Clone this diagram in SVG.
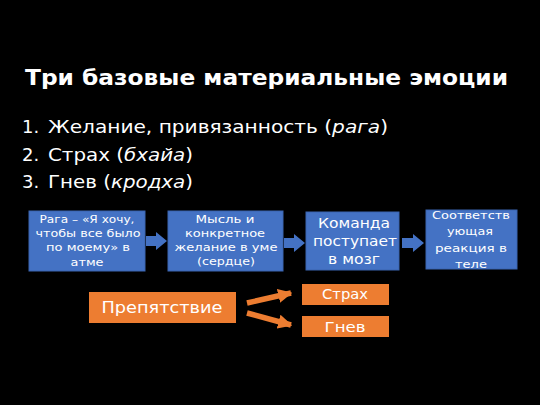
<svg xmlns="http://www.w3.org/2000/svg" width="540" height="405" viewBox="0 0 540 405">
<style>
text{font-family:"DejaVu Sans","Open Sans",sans-serif;fill:#fff}
.t{font-size:21px;font-weight:bold}
.l{font-size:18px}
.b{font-size:11px;text-anchor:middle}
.b3{font-size:14px;text-anchor:middle}
.o{text-anchor:middle}
.blue{fill:#4472C4;stroke:#3A64B0;stroke-width:1}
.orange{fill:#ED7D31}
.ba{fill:#4472C4}
</style>
<defs>
<marker id="ah" viewBox="0 0 10 10" refX="9" refY="5" markerWidth="2.6" markerHeight="2.6" orient="auto"><path d="M0,0 L10,5 L0,10 z" fill="#ED7D31"/></marker>
</defs>
<rect width="540" height="405" fill="#000"/>
<text class="t" x="25" y="85" textLength="483" lengthAdjust="spacingAndGlyphs">Три базовые материальные эмоции</text>
<g class="l">
<text x="22" y="133">1.</text><text x="48" y="133" textLength="340" lengthAdjust="spacingAndGlyphs">Желание, привязанность (<tspan font-style="italic">рага</tspan>)</text>
<text x="22" y="161">2.</text><text x="48" y="161" textLength="145" lengthAdjust="spacingAndGlyphs">Страх (<tspan font-style="italic">бхайа</tspan>)</text>
<text x="22" y="188">3.</text><text x="48" y="188" textLength="145" lengthAdjust="spacingAndGlyphs">Гнев (<tspan font-style="italic">кродха</tspan>)</text>
</g>
<g id="connectors">
<path class="ba" d="M146,236 L156,236 L156,232 L167,241 L156,250 L156,246 L146,246 z"/>
<path class="ba" d="M284,238 L294,238 L294,234 L305,243 L294,252 L294,248 L284,248 z"/>
<path class="ba" d="M402,238 L413,238 L413,234 L424,243 L413,252 L413,248 L402,248 z"/>
<line x1="247" y1="303" x2="291" y2="293" stroke="#ED7D31" stroke-width="5.5" marker-end="url(#ah)"/>
<line x1="247" y1="313" x2="291" y2="325" stroke="#ED7D31" stroke-width="5.5" marker-end="url(#ah)"/>
</g>
<g id="n1"><rect class="blue" x="29" y="211" width="116" height="60"/>
<text class="b" x="87" y="223" textLength="95" lengthAdjust="spacingAndGlyphs">Рага – «Я хочу,</text><text class="b" x="88" y="237" textLength="105" lengthAdjust="spacingAndGlyphs">чтобы все было</text><text class="b" x="88" y="251" textLength="84" lengthAdjust="spacingAndGlyphs">по моему» в</text><text class="b" x="87" y="266" textLength="33" lengthAdjust="spacingAndGlyphs">атме</text></g>
<g id="n2"><rect class="blue" x="168" y="211" width="115" height="60"/>
<text class="b" x="225" y="223" textLength="59" lengthAdjust="spacingAndGlyphs">Мысль и</text><text class="b" x="225" y="237" textLength="80" lengthAdjust="spacingAndGlyphs">конкретное</text><text class="b" x="226" y="251" textLength="103" lengthAdjust="spacingAndGlyphs">желание в уме</text><text class="b" x="226" y="265" textLength="58" lengthAdjust="spacingAndGlyphs">(сердце)</text></g>
<g id="n3"><rect class="blue" x="306" y="212" width="93" height="58"/>
<text class="b3" x="354" y="228" textLength="72" lengthAdjust="spacingAndGlyphs">Команда</text><text class="b3" x="355" y="246" textLength="84" lengthAdjust="spacingAndGlyphs">поступает</text><text class="b3" x="354" y="264" textLength="52" lengthAdjust="spacingAndGlyphs">в мозг</text></g>
<g id="n4"><rect class="blue" x="426" y="210" width="91" height="59"/>
<text class="b" x="471" y="219" textLength="78" lengthAdjust="spacingAndGlyphs">Соответств</text><text class="b" x="470" y="235" textLength="46" lengthAdjust="spacingAndGlyphs">ующая</text><text class="b" x="471" y="252" textLength="72" lengthAdjust="spacingAndGlyphs">реакция в</text><text class="b" x="471" y="268" textLength="32" lengthAdjust="spacingAndGlyphs">теле</text></g>
<g id="n5"><rect class="orange" x="89" y="292" width="147" height="31"/>
<text class="o" x="162" y="313" font-size="16" textLength="121" lengthAdjust="spacingAndGlyphs">Препятствие</text></g>
<g id="n6"><rect class="orange" x="302" y="284" width="87" height="21"/>
<text class="o" x="345" y="299" font-size="14" textLength="46" lengthAdjust="spacingAndGlyphs">Страх</text></g>
<g id="n7"><rect class="orange" x="302" y="316" width="87" height="21"/>
<text class="o" x="345" y="332" font-size="14" textLength="41" lengthAdjust="spacingAndGlyphs">Гнев</text></g>
</svg>
